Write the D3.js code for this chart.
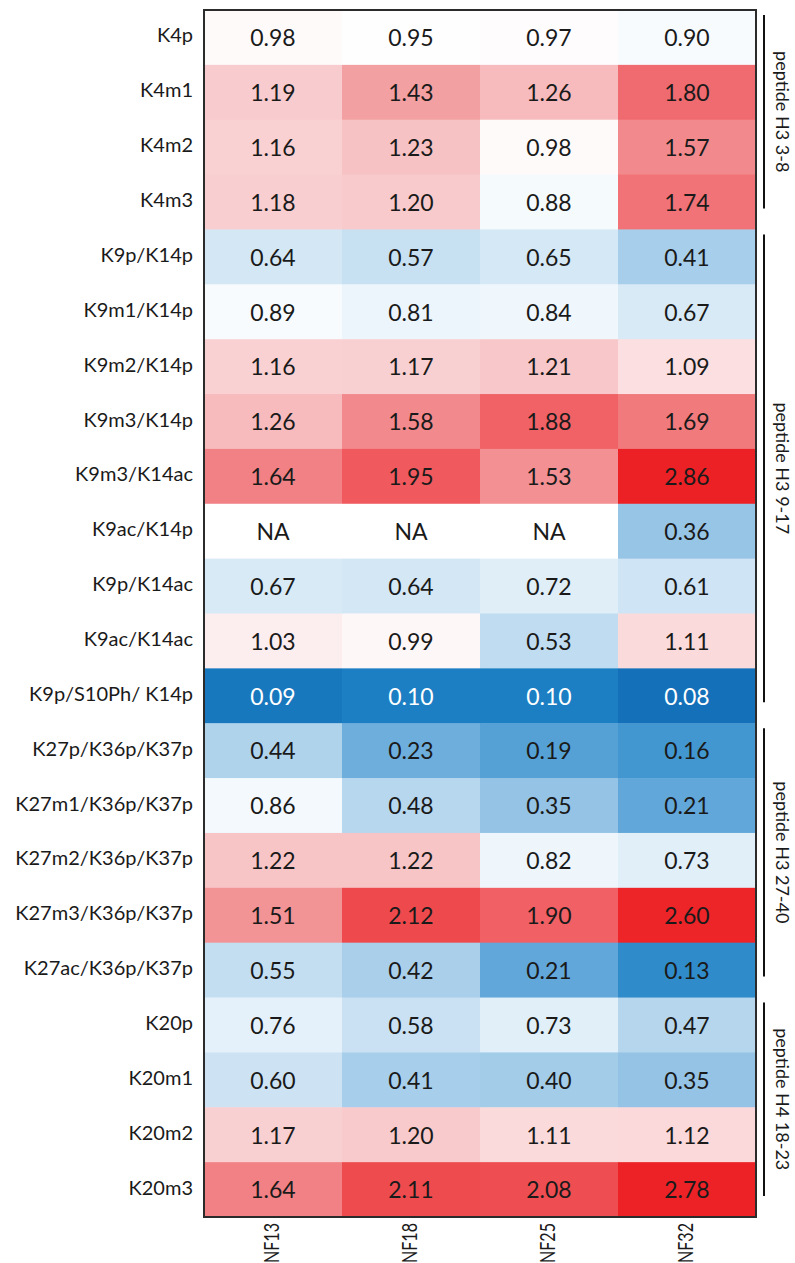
<!DOCTYPE html>
<html>
<head>
<meta charset="utf-8">
<script src="https://cdn.jsdelivr.net/npm/d3@7"></script>
<style>
  html, body { margin: 0; padding: 0; background: #fff; }
  svg { display: block; }
  text { font-family: Lato, "Open Sans", sans-serif; }
</style>
</head>
<body>
<svg id="chart" width="795" height="1263"></svg>
<script>
// Histone modification ratios per sample (NA = not available)
const marks = [
  "K4p", "K4m1", "K4m2", "K4m3",
  "K9p/K14p", "K9m1/K14p", "K9m2/K14p", "K9m3/K14p", "K9m3/K14ac",
  "K9ac/K14p", "K9p/K14ac", "K9ac/K14ac", "K9p/S10Ph/ K14p",
  "K27p/K36p/K37p", "K27m1/K36p/K37p", "K27m2/K36p/K37p", "K27m3/K36p/K37p", "K27ac/K36p/K37p",
  "K20p", "K20m1", "K20m2", "K20m3"
];
const samples = ["NF13", "NF18", "NF25", "NF32"];

const nf13 = [0.98, 1.19, 1.16, 1.18, 0.64, 0.89, 1.16, 1.26, 1.64, null, 0.67, 1.03, 0.09, 0.44, 0.86, 1.22, 1.51, 0.55, 0.76, 0.60, 1.17, 1.64];
const nf18 = [0.95, 1.43, 1.23, 1.20, 0.57, 0.81, 1.17, 1.58, 1.95, null, 0.64, 0.99, 0.10, 0.23, 0.48, 1.22, 2.12, 0.42, 0.58, 0.41, 1.20, 2.11];
const nf25 = [0.97, 1.26, 0.98, 0.88, 0.65, 0.84, 1.21, 1.88, 1.53, null, 0.72, 0.53, 0.10, 0.19, 0.35, 0.82, 1.90, 0.21, 0.73, 0.40, 1.11, 2.08];
const nf32 = [0.90, 1.80, 1.57, 1.74, 0.41, 0.67, 1.09, 1.69, 2.86, 0.36, 0.61, 1.11, 0.08, 0.16, 0.21, 0.73, 2.60, 0.13, 0.47, 0.35, 1.12, 2.78];

// Peptide groups: first and last row index of each
const groupNames = ["peptide H3 3-8", "peptide H3 9-17", "peptide H3 27-40", "peptide H4 18-23"];
const groupFirst = [0, 4, 13, 18];
const groupLast  = [3, 12, 17, 21];

const columns = [nf13, nf18, nf25, nf32];
const cells = [];
samples.forEach((s, j) => {
  marks.forEach((m, i) => cells.push({ mark: m, sample: s, value: columns[j][i] }));
});

const svg = d3.select("#chart");
const gridLeft = 204, gridRight = 756, gridTop = 10, gridBottom = 1217;

const x = d3.scaleBand().domain(samples).range([gridLeft, gridRight]).padding(0);
const y = d3.scaleBand().domain(marks).range([gridTop, gridBottom]).padding(0);

// Diverging blue-white-red colour scale, white near 1
const color = d3.scaleLinear()
  .domain([0.08, 0.10, 0.16, 0.23, 0.44, 0.64, 0.82, 0.96, 1.03, 1.11, 1.19, 1.26, 1.43, 1.57, 1.80, 1.95, 2.12, 2.60, 2.86])
  .range(["#1470b8", "#1c7fc4", "#4397d1", "#6eaedd", "#b0d3ec", "#d4e7f5", "#eef6fc", "#ffffff",
          "#fcedef", "#fbdadc", "#f8ccce", "#f7bbbd", "#f3a0a2", "#f28a8d", "#f06b6f",
          "#f05a5e", "#ee4a4d", "#ed2529", "#ec2126"])
  .interpolate(d3.interpolateRgb)
  .clamp(true);

const g = svg.append("g");

g.selectAll("rect.cell")
  .data(cells)
  .join("rect")
  .attr("class", "cell")
  .attr("x", d => x(d.sample))
  .attr("y", d => y(d.mark))
  .attr("width", x.bandwidth() + 0.5)
  .attr("height", y.bandwidth() + 0.5)
  .attr("fill", d => d.value == null ? "#ffffff" : color(d.value));

g.selectAll("text.val")
  .data(cells)
  .join("text")
  .attr("class", "val")
  .attr("x", d => x(d.sample) + x.bandwidth() / 2)
  .attr("y", d => y(d.mark) + y.bandwidth() / 2 + 3)
  .attr("text-anchor", "middle")
  .attr("dominant-baseline", "middle")
  .attr("font-size", 23)
  .attr("fill", d => d.value != null && d.value < 0.12 ? "#ffffff" : "#1a1a1a")
  .text(d => d.value == null ? "NA" : d.value.toFixed(2));

// Frame around the heatmap
svg.append("rect")
  .attr("x", gridLeft).attr("y", gridTop)
  .attr("width", gridRight - gridLeft).attr("height", gridBottom - gridTop)
  .attr("fill", "none")
  .attr("stroke", "#2b2b2b")
  .attr("stroke-width", 2);

// Row labels
svg.selectAll("text.row")
  .data(marks)
  .join("text")
  .attr("class", "row")
  .attr("x", gridLeft - 11)
  .attr("y", d => y(d) + y.bandwidth() / 2)
  .attr("text-anchor", "end")
  .attr("dominant-baseline", "middle")
  .attr("font-size", 20)
  .attr("fill", "#1a1a1a")
  .text(d => d);

// Column labels, rotated
svg.selectAll("text.col")
  .data(samples)
  .join("text")
  .attr("class", "col")
  .attr("transform", d => `translate(${x(d) + x.bandwidth() / 2},${gridBottom + 6}) rotate(-90)`)
  .attr("text-anchor", "end")
  .attr("dominant-baseline", "middle")
  .attr("font-size", 22)
  .attr("textLength", 40)
  .attr("lengthAdjust", "spacingAndGlyphs")
  .attr("fill", "#1a1a1a")
  .text(d => d);

// Group brackets on the right
const bx = 764;
const groups = groupNames.map((n, k) => ({
  name: n,
  y0: y(marks[groupFirst[k]]) + 5,
  y1: y(marks[groupLast[k]]) + y.bandwidth() - 21
}));

svg.selectAll("line.bracket")
  .data(groups)
  .join("line")
  .attr("class", "bracket")
  .attr("x1", bx).attr("x2", bx)
  .attr("y1", d => d.y0).attr("y2", d => d.y1)
  .attr("stroke", "#111")
  .attr("stroke-width", 2);

svg.selectAll("text.grp")
  .data(groups)
  .join("text")
  .attr("class", "grp")
  .attr("transform", d => `translate(781,${(d.y0 + d.y1) / 2}) rotate(90)`)
  .attr("text-anchor", "middle")
  .attr("dominant-baseline", "middle")
  .attr("font-size", 18)
  .attr("fill", "#1a1a1a")
  .text(d => d.name);
</script>
</body>
</html>
